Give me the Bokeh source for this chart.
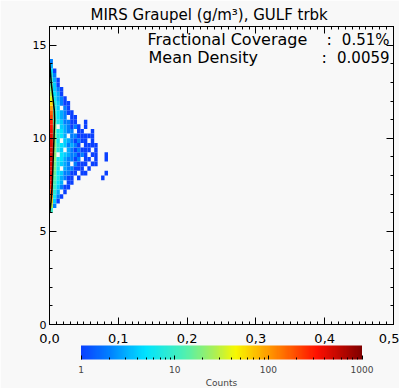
import numpy as np
from bokeh.plotting import figure
from bokeh.models import (ColumnDataSource, LinearAxis, FixedTicker, CustomJSTickFormatter,
                          Label, LogColorMapper, Range1d, ColorBar, Title)
from bokeh.embed import file_html
from bokeh.resources import INLINE

# ---------------- data ----------------
title_text = "MIRS Graupel (g/m\u00b3), GULF trbk"
coverage_label = "Fractional Coverage"
coverage_value = "0.51%"
density_label = "Mean Density"
density_value = "0.0059"
sep_text = ":"

x_bin_width = 0.005
y_bin_height = 0.25
y_bins = [6.0, 6.25, 6.5, 6.75, 7.0, 7.25, 7.5, 7.75, 8.0, 8.25, 8.5, 8.75, 9.0, 9.25,
          9.5, 9.75, 10.0, 10.25, 10.5, 10.75, 11.0, 11.25, 11.5, 11.75, 12.0, 12.25,
          12.5, 12.75, 13.0, 13.25, 13.5, 13.75, 14.0]
counts = [
    [10],
    [30, 2],
    [70, 4, 1],
    [120, 6, 2, 1],
    [200, 8, 3, 0, 1],
    [260, 10, 4, 2, 1, 1],
    [320, 12, 5, 3, 0, 1, 1],
    [360, 14, 6, 3, 2, 1, 1, 0, 1, 0, 0, 0, 0, 0, 0, 1],
    [400, 16, 5, 4, 2, 2, 1, 1, 0, 1, 1, 0, 0, 0, 0, 0, 1],
    [420, 18, 6, 0, 3, 2, 2, 1, 1, 1, 0, 1],
    [440, 18, 7, 4, 3, 2, 0, 2, 1, 1, 1, 0, 1, 1],
    [460, 20, 6, 5, 3, 2, 2, 1, 2, 0, 1, 1, 0, 1, 0, 0, 1],
    [470, 20, 0, 5, 4, 3, 2, 2, 1, 2, 1, 0, 1, 1, 0, 0, 1],
    [460, 20, 7, 4, 0, 3, 2, 1, 2, 1, 1, 1, 0, 1],
    [450, 20, 8, 5, 4, 2, 3, 2, 1, 0, 1, 1, 1, 1],
    [430, 20, 6, 0, 4, 3, 2, 1, 2, 1, 1, 0, 1],
    [400, 19, 7, 5, 3, 0, 2, 2, 1, 1, 1, 1, 1],
    [370, 18, 6, 5, 3, 2, 2, 0, 1, 1, 0, 0, 1],
    [330, 17, 0, 4, 3, 2, 1, 2, 1, 0, 1],
    [280, 15, 6, 4, 2, 2, 1, 1, 0, 0, 1],
    [220, 13, 5, 3, 2, 0, 1, 1],
    [160, 11, 5, 3, 2, 1, 1],
    [100, 9, 4, 0, 2, 1],
    [60, 8, 4, 2, 1, 1],
    [40, 6, 3, 2, 1],
    [28, 5, 3, 1],
    [20, 4, 2, 1],
    [14, 4, 1],
    [10, 3, 1],
    [7, 2],
    [5, 1],
    [3],
    [2],
]
mean_heights = [6.0, 6.5, 7.0, 7.5, 8.0, 8.5, 9.0, 9.5, 10.0, 10.5, 11.0, 11.5, 12.0,
                12.5, 13.0, 13.5, 14.0]
mean_density = [0.0005, 0.002, 0.003, 0.004, 0.0045, 0.005, 0.0055, 0.006, 0.0065,
                0.007, 0.0075, 0.007, 0.0055, 0.004, 0.0025, 0.0015, 0.0005]

x_ticks = [0.0, 0.1, 0.2, 0.3, 0.4, 0.5]
y_ticks = [0, 5, 10, 15]
cbar_ticks = [1, 10, 100, 1000]

# ---------------- styling ----------------
bg = "#f8f8f8"
FONT = "DejaVu Sans"

anchors = [(0.00, "#0a40ff"), (0.10, "#0080ff"), (0.23, "#00e4ff"), (0.37, "#50f0b0"),
           (0.48, "#b0f050"), (0.55, "#f8f800"), (0.68, "#ff9000"), (0.84, "#ff1000"),
           (1.00, "#800000")]
pos = np.array([a[0] for a in anchors])
rgb = np.array([[int(a[1][i:i + 2], 16) for i in (1, 3, 5)] for a in anchors], float)
t = np.linspace(0, 1, 256)
pal = ["#%02x%02x%02x" % tuple(int(round(np.interp(v, pos, rgb[:, k]))) for k in range(3))
       for v in t]

# ---------------- heatmap source ----------------
left, right, bottom, top, cnt = [], [], [], [], []
for yb, row in zip(y_bins, counts):
    for j, c in enumerate(row):
        if c > 0:
            left.append(j * x_bin_width)
            right.append((j + 1) * x_bin_width)
            bottom.append(yb)
            top.append(yb + y_bin_height)
            cnt.append(c)
src = ColumnDataSource(dict(left=left, right=right, bottom=bottom, top=top, count=cnt))
mapper = LogColorMapper(palette=pal, low=1, high=1000)

p = figure(width=399, height=388, x_range=Range1d(0, 0.5), y_range=Range1d(0, 16),
           output_backend="svg", toolbar_location=None,
           min_border_left=49, min_border_right=6, min_border_top=26, min_border_bottom=64,
           background_fill_color=bg, border_fill_color=bg)
p.outline_line_color = "black"
p.xgrid.visible = False
p.ygrid.visible = False

p.quad(left="left", right="right", bottom="bottom", top="top", source=src,
       fill_color={"field": "count", "transform": mapper}, line_color=None)
p.line(mean_density, mean_heights, line_color="black", line_width=1.5)

x_minor = [round(i * 0.01, 2) for i in range(51)]
y_minor = list(range(17))


def style_axis(ax, labels=True, big=False):
    ax.axis_line_color = "black"
    ax.major_tick_line_color = "black"
    ax.minor_tick_line_color = "black"
    ax.major_tick_in = 7
    ax.major_tick_out = 0
    ax.minor_tick_in = 3
    ax.minor_tick_out = 0
    ax.major_label_text_font = FONT
    ax.major_label_text_color = "black"
    ax.major_label_text_font_size = "13px" if big else "11px"
    ax.major_label_standoff = 4
    if not labels:
        ax.major_label_standoff = 0
        ax.formatter = CustomJSTickFormatter(code="return '';")


xa = p.xaxis[0]
xa.ticker = FixedTicker(ticks=x_ticks, minor_ticks=x_minor)
xa.formatter = CustomJSTickFormatter(code="return tick.toFixed(1).replace('.', ',');")
style_axis(xa, big=True)
xa.major_label_standoff = 9

ya = p.yaxis[0]
ya.ticker = FixedTicker(ticks=y_ticks, minor_ticks=y_minor)
ya.formatter = CustomJSTickFormatter(code="return tick.toFixed(0);")
style_axis(ya)
ya.major_label_standoff = 3

top_ax = LinearAxis(ticker=FixedTicker(ticks=x_ticks, minor_ticks=x_minor))
style_axis(top_ax, labels=False)
p.add_layout(top_ax, "above")
right_ax = LinearAxis(ticker=FixedTicker(ticks=y_ticks, minor_ticks=y_minor))
style_axis(right_ax, labels=False)
p.add_layout(right_ax, "right")

p.add_layout(Title(text=title_text, align="left", offset=41, standoff=6,
                   text_font=FONT, text_font_size="15px", text_font_style="normal",
                   text_color="black"), "above")


def add_label(x, y, text, align, size="16px"):
    p.add_layout(Label(x=x, y=y, text=text, text_align=align, text_baseline="middle",
                       text_font=FONT, text_font_size=size, text_color="black"))


add_label(0.1424, 15.3, coverage_label, "left")
add_label(0.4026, 15.3, " " + sep_text + " ", "left")
add_label(0.4942, 15.3, coverage_value, "right", "15px")
add_label(0.1439, 14.34, density_label, "left")
add_label(0.3953, 14.34, " " + sep_text + " ", "left")
add_label(0.4942, 14.34, density_value, "right", "15px")

# ---------------- colour bar ----------------
cminor = [m * d for d in (1, 10, 100) for m in range(2, 10)]
cb = ColorBar(color_mapper=mapper, orientation="horizontal", width=281, height=14,
              location="center", padding=0, margin=0,
              ticker=FixedTicker(ticks=cbar_ticks, minor_ticks=cminor),
              formatter=CustomJSTickFormatter(code="return tick.toFixed(0);"),
              major_label_text_font=FONT, major_label_text_font_size="9px",
              label_standoff=6,
              major_tick_line_color="black", major_tick_in=4, major_tick_out=0,
              minor_tick_line_color="black", minor_tick_in=2, minor_tick_out=0,
              bar_line_color=None, border_line_color=None, background_fill_color=None)
p.add_layout(cb, "below")
p.add_layout(Title(text="Counts", align="center", text_font=FONT, text_font_size="9px",
                   text_font_style="normal", standoff=0), "below")

open("out.html", "w").write(file_html(p, INLINE))
